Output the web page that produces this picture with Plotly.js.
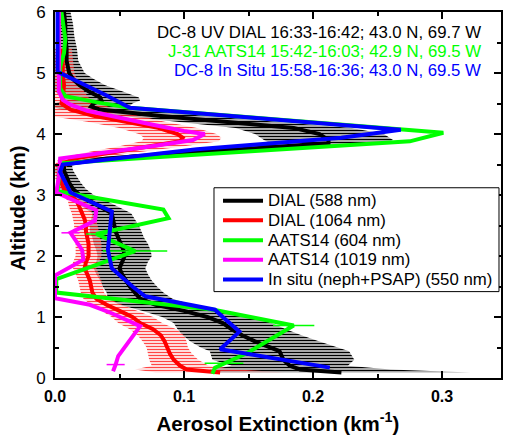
<!DOCTYPE html>
<html><head><meta charset="utf-8">
<script src="https://cdn.plot.ly/plotly-3.0.1.min.js"></script>
<style>html,body{margin:0;padding:0;background:#fff}#chart{width:506px;height:444px}</style>
</head><body><div id="chart"></div>
<script>
// DIAL 588 nm (black) with uncertainty
const alt588 = [6.0,5.8,5.6,5.4,5.2,5.0,4.9,4.8,4.7,4.6,4.55,4.5,4.45,4.4,4.3,4.2,4.1,4.0,3.9,3.85,3.8,3.7,3.6,3.5,3.4,3.3,3.2,3.1,3.0,2.9,2.8,2.7,2.6,2.5,2.4,2.3,2.2,2.1,2.0,1.9,1.8,1.7,1.6,1.5,1.4,1.3,1.2,1.1,1.0,0.9,0.8,0.7,0.6,0.5,0.44,0.3,0.2,0.14,0.09];
const ext588 = [0.007,0.008,0.008,0.009,0.009,0.011,0.014,0.019,0.026,0.035,0.036,0.030,0.028,0.035,0.080,0.135,0.185,0.205,0.212,0.212,0.175,0.110,0.040,0.007,0.007,0.009,0.011,0.014,0.019,0.027,0.036,0.044,0.045,0.046,0.047,0.049,0.051,0.053,0.054,0.052,0.050,0.052,0.055,0.058,0.062,0.066,0.078,0.100,0.118,0.130,0.137,0.145,0.155,0.166,0.174,0.177,0.182,0.190,0.222];
const err588 = [0.005,0.006,0.007,0.008,0.009,0.012,0.016,0.020,0.026,0.030,0.030,0.030,0.030,0.030,0.035,0.040,0.045,0.050,0.050,0.045,0.040,0.030,0.015,0.006,0.007,0.008,0.009,0.010,0.011,0.013,0.014,0.015,0.017,0.019,0.020,0.020,0.021,0.021,0.021,0.020,0.020,0.020,0.020,0.021,0.022,0.025,0.028,0.032,0.035,0.038,0.042,0.046,0.050,0.053,0.054,0.055,0.045,0.070,0.100];

// DIAL 1064 nm (red) with uncertainty
const alt1064 = [5.4,5.2,5.0,4.8,4.6,4.5,4.4,4.3,4.2,4.1,4.0,3.94,3.88,3.8,3.7,3.6,3.5,3.4,3.3,3.2,3.1,3.0,2.9,2.8,2.7,2.6,2.5,2.4,2.3,2.2,2.1,2.0,1.9,1.8,1.7,1.6,1.5,1.4,1.3,1.2,1.1,1.0,0.9,0.8,0.7,0.6,0.5,0.4,0.3,0.2,0.14,0.09];
const ext1064 = [0.005,0.006,0.006,0.007,0.006,0.005,0.012,0.030,0.055,0.080,0.095,0.099,0.097,0.075,0.045,0.015,0.005,0.004,0.004,0.005,0.007,0.012,0.017,0.019,0.021,0.023,0.024,0.024,0.025,0.026,0.026,0.026,0.024,0.023,0.025,0.027,0.028,0.029,0.032,0.040,0.050,0.060,0.066,0.076,0.082,0.085,0.087,0.089,0.092,0.097,0.102,0.128];
const err1064 = [0.008,0.008,0.009,0.012,0.020,0.030,0.035,0.035,0.030,0.030,0.030,0.030,0.030,0.025,0.020,0.012,0.005,0.004,0.004,0.004,0.005,0.006,0.007,0.008,0.008,0.009,0.009,0.010,0.010,0.010,0.010,0.010,0.010,0.009,0.009,0.009,0.009,0.009,0.010,0.012,0.014,0.016,0.017,0.018,0.018,0.017,0.016,0.017,0.019,0.022,0.040,0.050];

// AATS14 604 nm (green)
const altG = [6.0,5.56,5.33,5.1,4.75,4.62,4.51,4.43,4.02,3.88,3.52,3.3,3.06,2.76,2.62,2.36,2.08,1.62,1.40,1.12,0.86,0.41,0.24,0.17,0.07];
const extG = [0.005,0.008,0.007,0.004,0.004,0.008,0.035,0.058,0.301,0.275,0.004,0.003,0.002,0.084,0.088,0.032,0.062,0.001,0.001,0.123,0.185,0.149,0.131,0.124,0.122];
const errG = [0,0,0,0,0,0,0,0,0,0,0,0,0,0,0,0.008,0.025,0,0,0,0.016,0,0.015,0,0];

// AATS14 1019 nm (magenta)
const altM = [6.0,5.0,4.7,4.56,4.48,4.38,4.27,4.16,4.05,4.0,3.9,3.8,3.6,3.3,3.04,2.75,2.58,2.38,2.1,1.94,1.68,1.31,1.2,1.07,0.85,0.63,0.36,0.22,0.11];
const extM = [0.003,0.003,0.003,0.006,0.012,0.025,0.048,0.074,0.100,0.116,0.107,0.075,0.004,0.003,0.001,0.032,0.031,0.012,0.021,0.022,0.000,0.000,0.027,0.043,0.066,0.058,0.049,0.047,0.045];
const errM = [0,0,0,0,0,0,0,0,0,0,0,0,0,0,0,0,0,0.007,0,0,0,0,0,0,0,0,0,0.007,0];

// In situ neph+PSAP 550 nm (blue)
const altB = [6.0,5.5,5.02,4.63,4.43,4.07,3.94,3.75,3.5,3.38,3.04,2.73,2.1,1.8,1.5,1.34,1.12,1.0,0.76,0.47,0.17];
const extB = [0.002,0.002,0.002,0.040,0.058,0.268,0.222,0.110,0.006,0.004,0.012,0.044,0.041,0.044,0.060,0.070,0.124,0.130,0.143,0.128,0.213];

const seriesNames = ['DIAL (588 nm)','DIAL (1064 nm)','AATS14 (604 nm)','AATS14 (1019 nm)','In situ (neph+PSAP) (550 nm)'];
const seriesColors = ['#000000','#ff0000','#00ff00','#ff00ff','#0000ff'];
const headerLines = ['DC-8 UV DIAL 16:33-16:42; 43.0 N, 69.7 W','J-31 AATS14 15:42-16:03; 42.9 N, 69.5 W','DC-8 In Situ 15:58-16:36; 43.0 N, 69.5 W'];
const headerColors = ['#000000','#00ff00','#0000ff'];

function band(alt, ext, err){
  const x=[], y=[];
  for(let i=0;i<alt.length;i++){ x.push(ext[i]+err[i]); y.push(alt[i]); }
  for(let i=alt.length-1;i>=0;i--){ x.push(ext[i]-err[i]); y.push(alt[i]); }
  return {x, y};
}
const b588 = band(alt588, ext588, err588);
const b1064 = band(alt1064, ext1064, err1064);

const LW = 4;
const traces = [
  {x:b588.x, y:b588.y, mode:'lines', fill:'toself', line:{width:0, color:'rgba(0,0,0,0)'},
   fillcolor:'#a8a8a8', fillpattern:{shape:'-', fgcolor:'#000', bgcolor:'#a8a8a8', size:3, solidity:0.35},
   showlegend:false, hoverinfo:'skip'},
  {x:b1064.x, y:b1064.y, mode:'lines', fill:'toself', line:{width:0, color:'rgba(0,0,0,0)'},
   fillcolor:'rgba(255,150,150,0.3)', fillpattern:{shape:'-', fgcolor:'rgba(255,30,30,0.8)', bgcolor:'rgba(255,180,180,0.25)', size:3, solidity:0.4},
   showlegend:false, hoverinfo:'skip'},
  {x:ext588, y:alt588, mode:'lines', name:seriesNames[0], line:{color:seriesColors[0], width:LW}, showlegend:false},
  {x:ext1064, y:alt1064, mode:'lines', name:seriesNames[1], line:{color:seriesColors[1], width:LW}, showlegend:false},
  {x:extG, y:altG, mode:'lines', name:seriesNames[2], line:{color:seriesColors[2], width:LW}, showlegend:false,
   error_x:{type:'data', array:errG, visible:true, color:seriesColors[2], thickness:1.5, width:0}},
  {x:extM, y:altM, mode:'lines', name:seriesNames[3], line:{color:seriesColors[3], width:LW}, showlegend:false,
   error_x:{type:'data', array:errM, visible:true, color:seriesColors[3], thickness:1.5, width:0}},
  {x:extB, y:altB, mode:'lines', name:seriesNames[4], line:{color:seriesColors[4], width:LW}, showlegend:false}
];

const FONT = 'Liberation Sans, Arial, Helvetica, sans-serif';
const headerY = [0.945, 0.893, 0.839];
const annotations = headerLines.map((t,i)=>({
  text:t, xref:'paper', yref:'paper', x:0.96, y:headerY[i], xanchor:'right', yanchor:'middle',
  showarrow:false, font:{family:FONT, size:16.8, color:headerColors[i]}
}));

// legend drawn as a boxed key (paper coordinates)
const legX0 = 0.3565, legX1 = 0.9955, legY0 = 0.236, legY1 = 0.5198;
const legRowY = [0.4843, 0.4311, 0.3765, 0.3233, 0.2688];
const shapes = [
  {type:'rect', xref:'paper', yref:'paper', x0:legX0, x1:legX1, y0:legY0, y1:legY1,
   line:{color:'#000', width:1}, fillcolor:'#ffffff', layer:'above'}
];
seriesNames.forEach((n,i)=>{
  shapes.push({type:'line', xref:'paper', yref:'paper', x0:0.3767, x1:0.4664, y0:legRowY[i], y1:legRowY[i],
    line:{color:seriesColors[i], width:LW}, layer:'above'});
  annotations.push({text:n, xref:'paper', yref:'paper', x:0.4738, y:legRowY[i], xanchor:'left', yanchor:'middle',
    showarrow:false, font:{family:FONT, size:16.8, color:'#000'}});
});
annotations.push({text:'Altitude (km)', xref:'paper', yref:'paper', x:-0.083, y:0.465, xanchor:'center', yanchor:'middle',
  textangle:-90, showarrow:false, font:{family:FONT, size:20.5, weight:'bold', color:'#000'}});

const layout = {
  width:506, height:444,
  margin:{l:55, r:5, t:12, b:66},
  paper_bgcolor:'#ffffff', plot_bgcolor:'#ffffff',
  font:{family:FONT, color:'#000'},
  showlegend:false,
  xaxis:{
    range:[0,0.3457], tick0:0, dtick:0.1, tickformat:'.1f',
    ticks:'inside', ticklen:7, tickwidth:2, tickcolor:'#000',
    showline:true, linewidth:2, linecolor:'#000', mirror:'ticks',
    showgrid:false, zeroline:false,
    tickfont:{family:FONT, size:16, weight:'bold', color:'#000'},
    ticklabelstandoff:3,
    minor:{dtick:0.05, tick0:0, ticks:'inside', ticklen:4, tickwidth:2, tickcolor:'#000', showgrid:false},
    title:{text:'Aerosol Extinction (km<sup>-1</sup>)', font:{family:FONT, size:20.5, weight:'bold', color:'#000'}, standoff:12}
  },
  yaxis:{
    range:[0,6], tick0:0, dtick:1,
    ticks:'inside', ticklen:7, tickwidth:2, tickcolor:'#000',
    showline:true, linewidth:2, linecolor:'#000', mirror:'ticks',
    showgrid:false, zeroline:false,
    tickfont:{family:FONT, size:17, color:'#000'},
    ticklabelstandoff:4,
    minor:{dtick:0.5, tick0:0, ticks:'inside', ticklen:4, tickwidth:2, tickcolor:'#000', showgrid:false}
  },
  shapes:shapes,
  annotations:annotations
};

Plotly.newPlot('chart', traces, layout, {staticPlot:true, displayModeBar:false});
</script>
</body></html>
